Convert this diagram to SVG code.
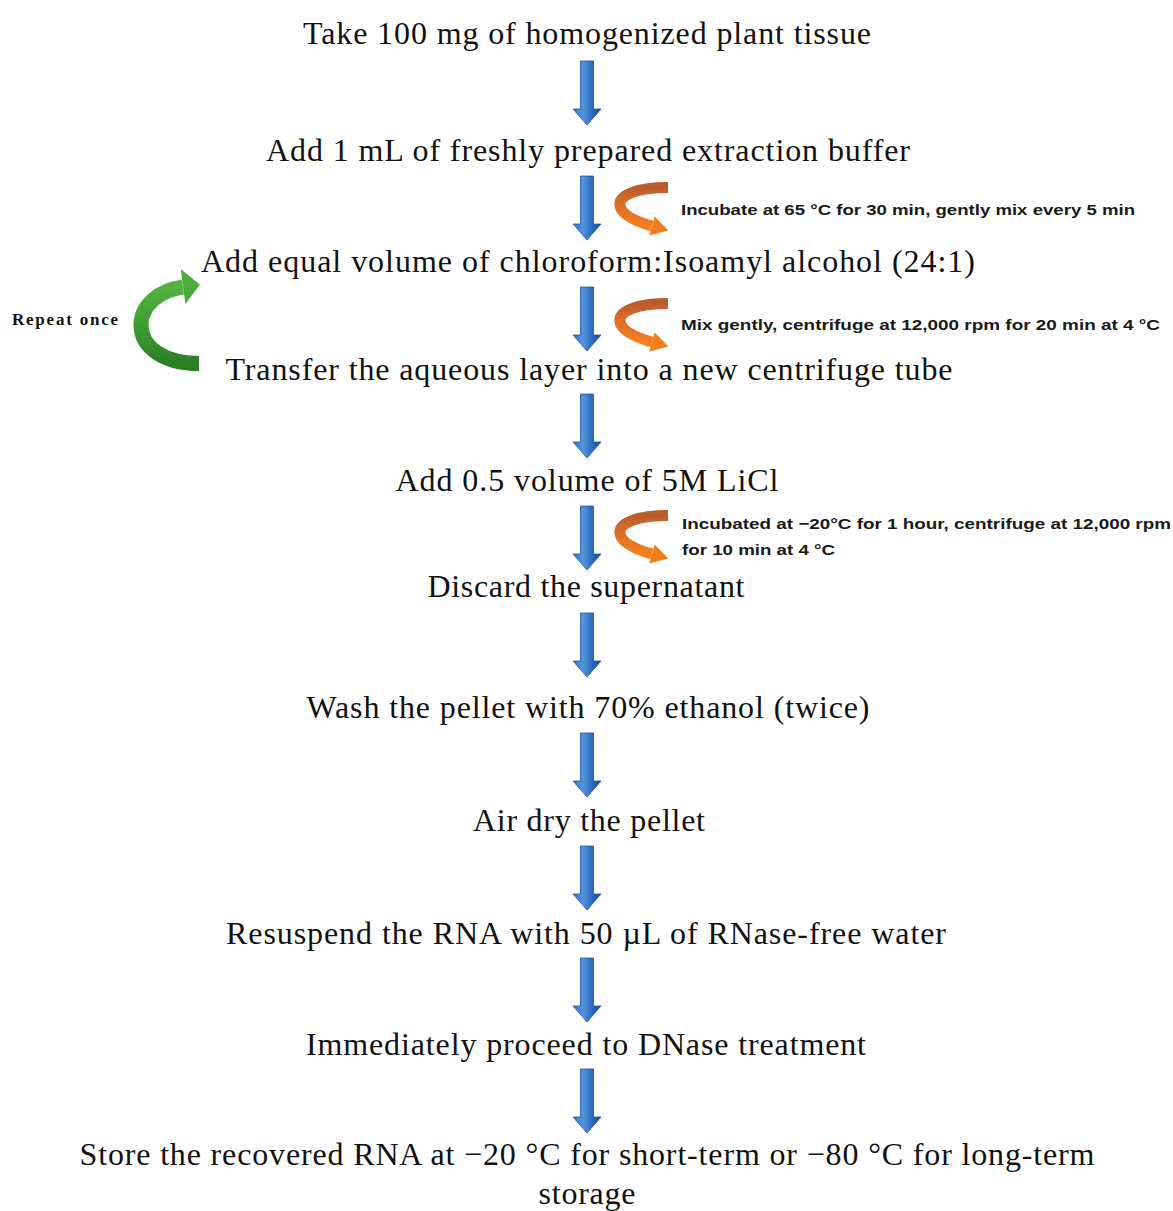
<svg xmlns="http://www.w3.org/2000/svg" xmlns:xlink="http://www.w3.org/1999/xlink" width="1173" height="1211" viewBox="0 0 1173 1211">
<style>
.step{font-family:"Liberation Serif","Times New Roman",serif;font-size:32px;fill:#111;text-anchor:middle}
.note{font-family:"Liberation Sans",Arial,sans-serif;font-size:15.5px;font-weight:bold;fill:#1a1a1a}
.rep{font-family:"Liberation Serif","Times New Roman",serif;font-size:17px;font-weight:bold;fill:#111}
.blue{fill:url(#gBlue);stroke:#23569a;stroke-width:0.8}
</style>
<defs>
<linearGradient id="gBlue" x1="0" y1="0" x2="1" y2="0">
<stop offset="0" stop-color="#2f6fc4"/>
<stop offset="0.35" stop-color="#5496de"/>
<stop offset="0.7" stop-color="#2b68bb"/>
<stop offset="1" stop-color="#1b4c92"/>
</linearGradient>
<linearGradient id="gOrange" x1="0" y1="0" x2="0" y2="1">
<stop offset="0" stop-color="#b85c2c"/>
<stop offset="0.3" stop-color="#d7692a"/>
<stop offset="1" stop-color="#f4801f"/>
</linearGradient>
<linearGradient id="gGreen" x1="0" y1="0" x2="0" y2="1">
<stop offset="0" stop-color="#55b140"/>
<stop offset="0.5" stop-color="#3f9d32"/>
<stop offset="1" stop-color="#2c7f24"/>
</linearGradient>
<g id="blueArrow">
<path class="blue" d="M -6.5,0 L 6.5,0 L 6.5,48 L 14,48 L 0,64 L -14,48 L -6.5,48 Z"/>
</g>
<g id="orangeArrow">
<path d="M 51,7.5 C 18,7.5 1,16 3,26 C 5,36 21,42 35,46" fill="none" stroke="url(#gOrange)" stroke-width="11"/>
<polygon points="37.7,36.4 51.3,50.6 32.3,55.6" fill="#f27d1f"/>
</g>
</defs>

<g id="connectors">
<use xlink:href="#blueArrow" x="587" y="61"/>
<use xlink:href="#blueArrow" x="587" y="176"/>
<use xlink:href="#blueArrow" x="587" y="287"/>
<use xlink:href="#blueArrow" x="587" y="394"/>
<use xlink:href="#blueArrow" x="587" y="506"/>
<use xlink:href="#blueArrow" x="587" y="613"/>
<use xlink:href="#blueArrow" x="587" y="733"/>
<use xlink:href="#blueArrow" x="587" y="846"/>
<use xlink:href="#blueArrow" x="587" y="958"/>
<use xlink:href="#blueArrow" x="587" y="1069"/>
<use xlink:href="#orangeArrow" x="617" y="180"/>
<use xlink:href="#orangeArrow" x="617" y="296"/>
<use xlink:href="#orangeArrow" x="617" y="508"/>
<g id="repeat-arrow">
<path d="M 199,363.5 C 165,363.5 141,348 141,325 C 141,305 160,290 183,287" fill="none" stroke="url(#gGreen)" stroke-width="15"/>
<polygon points="180.8,269 200,284.8 185.4,304" fill="#4fac3c"/>
</g>
</g>

<g id="n1"><text class="step" x="587" y="44" textLength="568" lengthAdjust="spacing">Take 100 mg of homogenized plant tissue</text></g>
<g id="n2"><text class="step" x="588" y="161" textLength="644" lengthAdjust="spacing">Add 1 mL of freshly prepared extraction buffer</text></g>
<g id="n3"><text class="step" x="588" y="272" textLength="774" lengthAdjust="spacing">Add equal volume of chloroform:Isoamyl alcohol (24:1)</text></g>
<g id="n4"><text class="step" x="589" y="380" textLength="727" lengthAdjust="spacing">Transfer the aqueous layer into a new centrifuge tube</text></g>
<g id="n5"><text class="step" x="587" y="491" textLength="383" lengthAdjust="spacing">Add 0.5 volume of 5M LiCl</text></g>
<g id="n6"><text class="step" x="586" y="597" textLength="317" lengthAdjust="spacing">Discard the supernatant</text></g>
<g id="n7"><text class="step" x="588" y="718" textLength="563" lengthAdjust="spacing">Wash the pellet with 70% ethanol (twice)</text></g>
<g id="n8"><text class="step" x="589" y="831" textLength="232" lengthAdjust="spacing">Air dry the pellet</text></g>
<g id="n9"><text class="step" x="586" y="944" textLength="720" lengthAdjust="spacing">Resuspend the RNA with 50 µL of RNase-free water</text></g>
<g id="n10"><text class="step" x="586" y="1055" textLength="560" lengthAdjust="spacing">Immediately proceed to DNase treatment</text></g>
<g id="n11">
<text class="step" x="587" y="1165" textLength="1015" lengthAdjust="spacing">Store the recovered RNA at −20 °C for short-term or −80 °C for long-term</text>
<text class="step" x="587" y="1204" textLength="97" lengthAdjust="spacing">storage</text>
</g>

<g id="note1"><text class="note" x="681" y="215" textLength="454" lengthAdjust="spacingAndGlyphs">Incubate at 65 °C for 30 min, gently mix every 5 min</text></g>
<g id="note2"><text class="note" x="681" y="330" textLength="479" lengthAdjust="spacingAndGlyphs">Mix gently, centrifuge at 12,000 rpm for 20 min at 4 °C</text></g>
<g id="note3">
<text class="note" x="682" y="529" textLength="489" lengthAdjust="spacingAndGlyphs">Incubated at −20°C for 1 hour, centrifuge at 12,000 rpm</text>
<text class="note" x="682" y="555" textLength="153" lengthAdjust="spacingAndGlyphs">for 10 min at 4 °C</text>
</g>
<g id="note-repeat"><text class="rep" x="12" y="325" textLength="106" lengthAdjust="spacing">Repeat once</text></g>
</svg>
